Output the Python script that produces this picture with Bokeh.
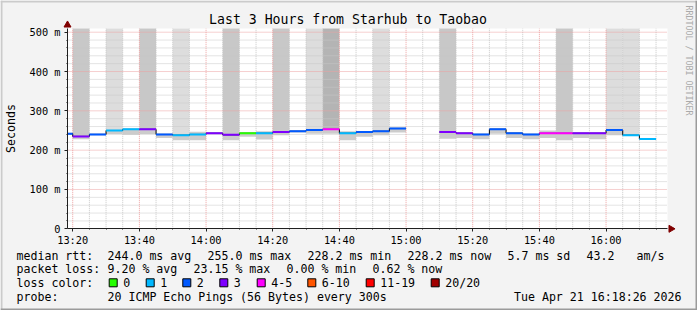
import math
from bokeh.plotting import figure
from bokeh.models import Range1d, FixedTicker, Label, ColumnDataSource
from bokeh.embed import file_html
from bokeh.resources import INLINE

nan = float("nan")

# ---------------- data ----------------
interval_start = ["13:15", "13:20", "13:25", "13:30", "13:35", "13:40", "13:45", "13:50", "13:55",
                  "14:00", "14:05", "14:10", "14:15", "14:20", "14:25", "14:30", "14:35", "14:40",
                  "14:45", "14:50", "14:55", "15:00", "15:05", "15:10", "15:15", "15:20", "15:25",
                  "15:30", "15:35", "15:40", "15:45", "15:50", "15:55", "16:00", "16:05", "16:10"]
median_ms = [242, 235, 240, 250, 253, 253, 240, 238, 240, 243, 239, 243, 243, 246, 248, 251, 253, 243,
             246, 248, 255, nan, nan, 246, 243, 240, 253, 243, 240, 243, 243, 243, 243, 251, 238, 228.2]
lost_pings = [2, 3, 2, 1, 1, 3, 2, 1, 1, 3, 3, 0, 1, 3, 2, 2, 5, 1,
              2, 2, 2, None, None, 3, 3, 2, 2, 2, 2, 4, 4, 3, 3, 2, 1, 1]
smoke_lo = [240, 228, 238, 241, 239, 241, 231, 225, 225, 241, 225, 234, 227, 238, 245, 242, 242, 225,
            234, 238, 245, nan, nan, 229, 231, 228, 242, 231, 228, 231, 225, 231, 228, 238, 236, 228.2]
smoke_hi = [244, 237, 242, 252, 254, 255, 242, 240, 247, 245, 241, 245, 248, 248, 250, 253, 255, 248,
            248, 250, 258, nan, nan, 248, 245, 242, 255, 245, 242, 250, 245, 245, 245, 253, 240, 228.2]
# number of outlier pings above the top of the chart (0 = none)
offscale_pings = [0, 2, 0, 1, 0, 2, 0, 1, 0, 0, 2, 0, 0, 2, 0, 1, 3, 0,
                  0, 1, 0, 0, 0, 2, 0, 0, 0, 0, 0, 0, 2, 0, 0, 1, 1, 0]

loss_labels = ["0", "1", "2", "3", "4-5", "6-10", "11-19", "20/20"]
loss_upper = [0, 1, 2, 3, 5, 10, 19, 20]
loss_colors = ["#26ff00", "#00b8ff", "#0059ff", "#7e00ff", "#ff00ff", "#ff5500", "#ff0000", "#a10000"]

y_ticks = [0, 100, 200, 300, 400, 500]
y_tick_labels = ["0", "100 m", "200 m", "300 m", "400 m", "500 m"]
y_minor_step = 20
x_ticks = ["13:20", "13:40", "14:00", "14:20", "14:40", "15:00", "15:20", "15:40", "16:00"]
x_minor_step = 5
view_start, view_end = "13:18:26", "16:18:26"
step_min = 5

rtt_avg, rtt_max, rtt_min, rtt_now, rtt_sd, rtt_ams = 244.0, 255.0, 228.2, 228.2, 5.7, 43.2
loss_avg, loss_max, loss_min, loss_now = 9.20, 23.15, 0.00, 0.62
title = "Last 3 Hours from Starhub to Taobao"
probe_text = "20 ICMP Echo Pings (56 Bytes) every 300s"
stamp = "Tue Apr 21 16:18:26 2026"


def to_min(s):
    parts = [int(v) for v in s.split(":")]
    h, m = parts[0], parts[1]
    sec = parts[2] if len(parts) > 2 else 0
    return (h - 13) * 60 + m + sec / 60.0


starts = [to_min(s) for s in interval_start]
ends = [s + step_min for s in starts]
x0, x1 = to_min(view_start), to_min(view_end)


def loss_color(n):
    for ub, c in zip(loss_upper, loss_colors):
        if n <= ub:
            return c
    return loss_colors[-1]


band_shades = {1: "#dddddd", 2: "#c8c8c8", 3: "#b4b4b4"}

# ---------------- geometry (canvas pixels) ----------------
FONT = "DejaVu Sans Mono"
BG = "#f3f3f3"
AXC = "#202020"
ARC = "#800000"
W, H = 697, 310
PL, PR, PT, PB = 67, 667, 28, 228.3          # plot area edges
Y_TOP = 500 * (PB - PT) / 196.6               # value at plot-area top
ppm = (PR - PL) / (x1 - x0)                   # px per minute
ppv = (PB - PT) / Y_TOP                       # px per ms


def X(px):   # canvas px -> minutes
    return x0 + (px - PL) / ppm


def Y(py):   # canvas px (from top) -> ms
    return (PB - py) / ppv


p = figure(width=W, height=H, output_backend="svg", toolbar_location=None,
           x_range=Range1d(X(0), X(W)), y_range=Range1d(Y(H), Y(0)), min_border=0)
p.border_fill_color = BG
p.background_fill_color = BG
p.outline_line_color = None
p.xgrid.visible = False
p.ygrid.visible = False

# outer 3D frame
p.quad(left=[X(0), X(0)], right=[X(W), X(2)], top=[Y(0), Y(0)], bottom=[Y(2), Y(H)],
       fill_color="#cbcbcb", line_color=None, level="image")
p.quad(left=[X(0), X(W - 2)], right=[X(W), X(W)], top=[Y(H - 2), Y(0)], bottom=[Y(H), Y(H)],
       fill_color="#9b9b9b", line_color=None, level="image")

# white plot area
p.quad(left=[x0], right=[x1], bottom=[0], top=[Y_TOP], fill_color="white",
       line_color=None, level="image")

# bands for off-scale pings
bi = [i for i, v in enumerate(offscale_pings) if v > 0 and not math.isnan(median_ms[i])]
band_src = ColumnDataSource(dict(
    left=[starts[i] for i in bi], right=[ends[i] for i in bi],
    bottom=[median_ms[i] for i in bi], top=[Y_TOP for i in bi],
    color=[band_shades[offscale_pings[i]] for i in bi]))
p.quad(left="left", right="right", bottom="bottom", top="top", fill_color="color",
       line_color=None, source=band_src, level="image")

# smoke
si = [i for i in range(len(starts)) if not math.isnan(median_ms[i])]
smoke_src = ColumnDataSource(dict(
    left=[max(starts[i], x0) for i in si], right=[ends[i] for i in si],
    bottom=[smoke_lo[i] for i in si], top=[smoke_hi[i] for i in si]))
p.quad(left="left", right="right", bottom="bottom", top="top", fill_color="#cccccc",
       line_color=None, source=smoke_src, level="image")

# grid lines limited to the plot area
xt = [to_min(t) for t in x_ticks]
x_minor = [m for m in range(20, 200, x_minor_step) if m not in xt and x0 < m < x1]
y_minor = [v for v in range(y_minor_step, 520, y_minor_step) if v not in y_ticks and v < Y_TOP]
p.segment(x0=x_minor, x1=x_minor, y0=[0] * len(x_minor), y1=[Y_TOP] * len(x_minor),
          line_color="#c8c8c8", line_dash="1 1", line_width=1, level="underlay")
p.segment(x0=[x0] * len(y_minor), x1=[x1] * len(y_minor), y0=y_minor, y1=y_minor,
          line_color="#c8c8c8", line_dash="1 1", line_width=1, level="underlay")
p.segment(x0=xt, x1=xt, y0=[0] * len(xt), y1=[Y_TOP] * len(xt),
          line_color="#eca0a0", line_dash="1 1", line_width=1, level="underlay")
ym = [v for v in y_ticks if v > 0]
p.segment(x0=[x0] * len(ym), x1=[x1] * len(ym), y0=ym, y1=ym,
          line_color="#eca0a0", line_dash="1 1", line_width=1, level="underlay")

# black median step line
lx, ly = [], []
for i in range(len(starts)):
    if math.isnan(median_ms[i]):
        lx.append(nan); ly.append(nan)
    else:
        lx += [max(starts[i], x0), ends[i]]
        ly += [median_ms[i], median_ms[i]]
p.line(lx, ly, line_color="black", line_width=1)

# coloured median segments
seg_src = ColumnDataSource(dict(
    x0=[max(starts[i], x0) for i in si], x1=[ends[i] for i in si],
    y=[median_ms[i] for i in si], color=[loss_color(lost_pings[i]) for i in si]))
p.segment(x0="x0", x1="x1", y0="y", y1="y", line_color="color", line_width=2, source=seg_src)

# axes (drawn at fixed locations so the frame covers the whole canvas)
p.xaxis.ticker = FixedTicker(ticks=xt, minor_ticks=x_minor)
p.xaxis.major_label_overrides = {to_min(t): t for t in x_ticks}
p.yaxis.ticker = FixedTicker(ticks=y_ticks, minor_ticks=y_minor)
p.yaxis.major_label_overrides = dict(zip(y_ticks, y_tick_labels))
p.xaxis.fixed_location = 0
p.yaxis.fixed_location = x0
p.xaxis.bounds = (x0, x1)
p.yaxis.bounds = (0, Y_TOP)
for ax in (p.xaxis, p.yaxis):
    ax.axis_line_color = AXC
    ax.major_tick_line_color = AXC
    ax.minor_tick_line_color = AXC
    ax.major_tick_out = 3
    ax.major_tick_in = 0
    ax.minor_tick_out = 1
    ax.minor_tick_in = 0
    ax.major_label_text_font = FONT
    ax.major_label_text_font_size = "10.3px"
    ax.major_label_text_color = "black"
p.xaxis.major_label_standoff = 2
p.yaxis.major_label_standoff = 4
p.yaxis.axis_label = "Seconds"
p.yaxis.axis_label_text_font = FONT
p.yaxis.axis_label_text_font_size = "11.6px"
p.yaxis.axis_label_text_font_style = "normal"
p.yaxis.axis_label_text_color = "black"
p.yaxis.axis_label_standoff = 9

# axis arrow heads
p.scatter(x=[X(PR + 3.5)], y=[0], marker="triangle", size=7, angle=-math.pi / 2,
          fill_color=ARC, line_color=ARC)
p.scatter(x=[x0], y=[Y(PT - 3.5)], marker="triangle", size=7,
          fill_color=ARC, line_color=ARC)


def lab(text, cx, cy, size="11.6px", align="left", color="black", angle=0):
    p.add_layout(Label(x=X(cx), y=Y(cy), text=text, text_font=FONT, text_font_size=size,
                       text_align=align, text_baseline="middle", text_color=color, angle=angle))


lab(title, 347.5, 19, size="13.2px", align="center")
lab("RRDTOOL / TOBI OETIKER", 688, 60, size="8.3px", align="center", color="#aaaaaa",
    angle=-math.pi / 2)

r1, r2, r3, r4 = 255, 268.5, 282.3, 296
lab("median rtt:", 16, r1)
lab(f"{rtt_avg:.1f} ms avg", 107, r1)
lab(f"{rtt_max:.1f} ms max", 207, r1)
lab(f"{rtt_min:.1f} ms min", 307, r1)
lab(f"{rtt_now:.1f} ms now", 407, r1)
lab(f"{rtt_sd:.1f} ms sd", 507, r1)
lab(f"{rtt_ams:.1f}", 586, r1)
lab("am/s", 636, r1)

lab("packet loss:", 16, r2)
lab(f"{loss_avg:.2f} % avg", 107, r2)
lab(f"{loss_max:.2f} % max", 193, r2)
lab(f"{loss_min:.2f} % min", 286, r2)
lab(f"{loss_now:.2f} % now", 372, r2)

lab("loss color:", 16, r3)
box_x = [108.7, 145.7, 182.3, 219.3, 256.7, 307.3, 365.7, 430.7]
for bx, lbl in zip(box_x, loss_labels):
    lab(lbl, bx + 14, r3)
p.quad(left=[X(b) for b in box_x], right=[X(b + 8) for b in box_x],
       top=[Y(r3 - 4)] * len(box_x), bottom=[Y(r3 + 4)] * len(box_x),
       fill_color=loss_colors, line_color="black", line_width=1)

lab("probe:", 16, r4)
lab(probe_text, 107, r4)
lab(stamp, 681, r4, align="right")

open("out.html", "w").write(file_html(p, INLINE))
